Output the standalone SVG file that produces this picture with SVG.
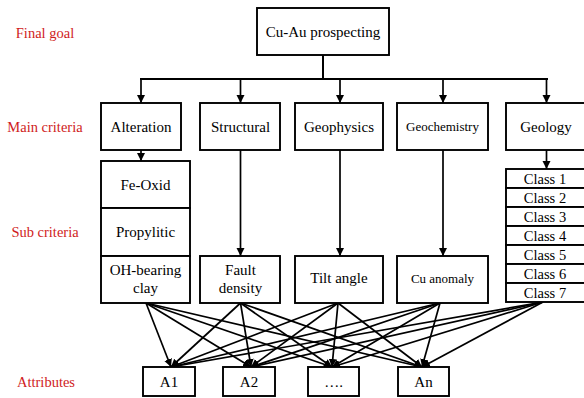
<svg xmlns="http://www.w3.org/2000/svg" width="584" height="398" viewBox="0 0 584 398">
<style>
.box{fill:#fff;stroke:#000;stroke-width:1.9}
text{font-family:'Liberation Serif', 'Times New Roman', Times, serif}
.t{font-size:15px;fill:#000;text-anchor:middle}
.s{font-size:13px}
.c{font-size:14.5px}
.lab{font-size:14.5px;fill:#d01c1c;text-anchor:middle}
.ln{fill:none;stroke:#000;stroke-width:2}
.ar{fill:none;stroke:#000;stroke-width:1.7;marker-end:url(#ah)}
</style>
<defs>
<marker id="ah" markerUnits="userSpaceOnUse" markerWidth="9" markerHeight="9" refX="8" refY="4" orient="auto">
<path d="M0,0 L8,4 L0,8 Z" fill="#000"/>
</marker>
</defs>
<rect width="584" height="398" fill="#fff"/>
<g id="labels" font-family="Liberation Serif, serif">
<text class="lab" x="45" y="38">Final goal</text>
<text class="lab" x="45" y="132">Main criteria</text>
<text class="lab" x="45" y="237">Sub criteria</text>
<text class="lab" x="46" y="387">Attributes</text>
</g>
<g id="connectors">
<path class="ln" d="M323,55 V79 M140,79 H548"/>
<path class="ar" d="M141,79 V103"/>
<path class="ar" d="M240.5,79 V103"/>
<path class="ar" d="M340,79 V103"/>
<path class="ar" d="M443,79 V103"/>
<path class="ar" d="M546.5,79 V103"/>
<path class="ar" d="M141,150 V161"/>
<path class="ar" d="M240.5,150 V256"/>
<path class="ar" d="M340,150 V256"/>
<path class="ar" d="M443,150 V256"/>
<path class="ar" d="M546.5,150 V169"/>
<path class="ar" d="M146,303 L171,367"/>
<path class="ar" d="M146,303 L251,367"/>
<path class="ar" d="M146,303 L332,367"/>
<path class="ar" d="M146,303 L422,367"/>
<path class="ar" d="M240.5,303 L171,367"/>
<path class="ar" d="M240.5,303 L251,367"/>
<path class="ar" d="M240.5,303 L332,367"/>
<path class="ar" d="M240.5,303 L422,367"/>
<path class="ar" d="M338,303 L171,367"/>
<path class="ar" d="M338,303 L251,367"/>
<path class="ar" d="M338,303 L332,367"/>
<path class="ar" d="M338,303 L422,367"/>
<path class="ar" d="M440,303 L171,367"/>
<path class="ar" d="M440,303 L251,367"/>
<path class="ar" d="M440,303 L332,367"/>
<path class="ar" d="M440,303 L422,367"/>
<path class="ar" d="M543,302 L171,367"/>
<path class="ar" d="M543,302 L251,367"/>
<path class="ar" d="M543,302 L332,367"/>
<path class="ar" d="M543,302 L422,367"/>
</g>
<g id="goal"><rect class="box" x="257" y="8" width="132" height="47"/><text class="t" x="323" y="37">Cu-Au prospecting</text></g>
<g id="alteration"><rect class="box" x="101" y="103" width="80" height="47"/><text class="t" x="141" y="132">Alteration</text></g>
<g id="structural"><rect class="box" x="200" y="103" width="80" height="47"/><text class="t" x="240.5" y="132">Structural</text></g>
<g id="geophysics"><rect class="box" x="295" y="103" width="88" height="47"/><text class="t" x="339" y="132">Geophysics</text></g>
<g id="geochemistry"><rect class="box" x="397" y="103" width="91" height="47"/><text class="t s" x="442.5" y="131">Geochemistry</text></g>
<g id="geology"><rect class="box" x="506" y="103" width="80" height="47"/><text class="t" x="546" y="132">Geology</text></g>
<g id="feoxid"><rect class="box" x="101" y="161" width="89" height="47"/><text class="t" x="145.5" y="190">Fe-Oxid</text></g>
<g id="propylitic"><rect class="box" x="101" y="208" width="89" height="48"/><text class="t" x="145.5" y="237">Propylitic</text></g>
<g id="ohclay"><rect class="box" x="101" y="256" width="89" height="47"/><text class="t" x="145.5" y="275">OH-bearing</text><text class="t" x="145.5" y="293">clay</text></g>
<g id="fault"><rect class="box" x="200" y="256" width="80" height="47"/><text class="t" x="240.5" y="275">Fault</text><text class="t" x="240.5" y="293">density</text></g>
<g id="tilt"><rect class="box" x="295" y="256" width="88" height="47"/><text class="t" x="339" y="283">Tilt angle</text></g>
<g id="cuanomaly"><rect class="box" x="397" y="256" width="91" height="47"/><text class="t s" x="442.5" y="283">Cu anomaly</text></g>
<g id="classes">
<rect class="box" x="506" y="169" width="80" height="19"/><text class="t c" x="545" y="183.5">Class 1</text>
<rect class="box" x="506" y="188" width="80" height="19"/><text class="t c" x="545" y="202.5">Class 2</text>
<rect class="box" x="506" y="207" width="80" height="19"/><text class="t c" x="545" y="221.5">Class 3</text>
<rect class="box" x="506" y="226" width="80" height="19"/><text class="t c" x="545" y="240.5">Class 4</text>
<rect class="box" x="506" y="245" width="80" height="19"/><text class="t c" x="545" y="259.5">Class 5</text>
<rect class="box" x="506" y="264" width="80" height="19"/><text class="t c" x="545" y="278.5">Class 6</text>
<rect class="box" x="506" y="283" width="80" height="19"/><text class="t c" x="545" y="297.5">Class 7</text>
</g>
<g id="a1"><rect class="box" x="143" y="367" width="52" height="29"/><text class="t" x="169" y="387">A1</text></g>
<g id="a2"><rect class="box" x="223" y="367" width="52" height="29"/><text class="t" x="249" y="387">A2</text></g>
<g id="adots"><rect class="box" x="308" y="367" width="51" height="29"/><text class="t" x="333.5" y="387">….</text></g>
<g id="an"><rect class="box" x="398" y="367" width="51" height="29"/><text class="t" x="423.5" y="387">An</text></g>
</svg>
